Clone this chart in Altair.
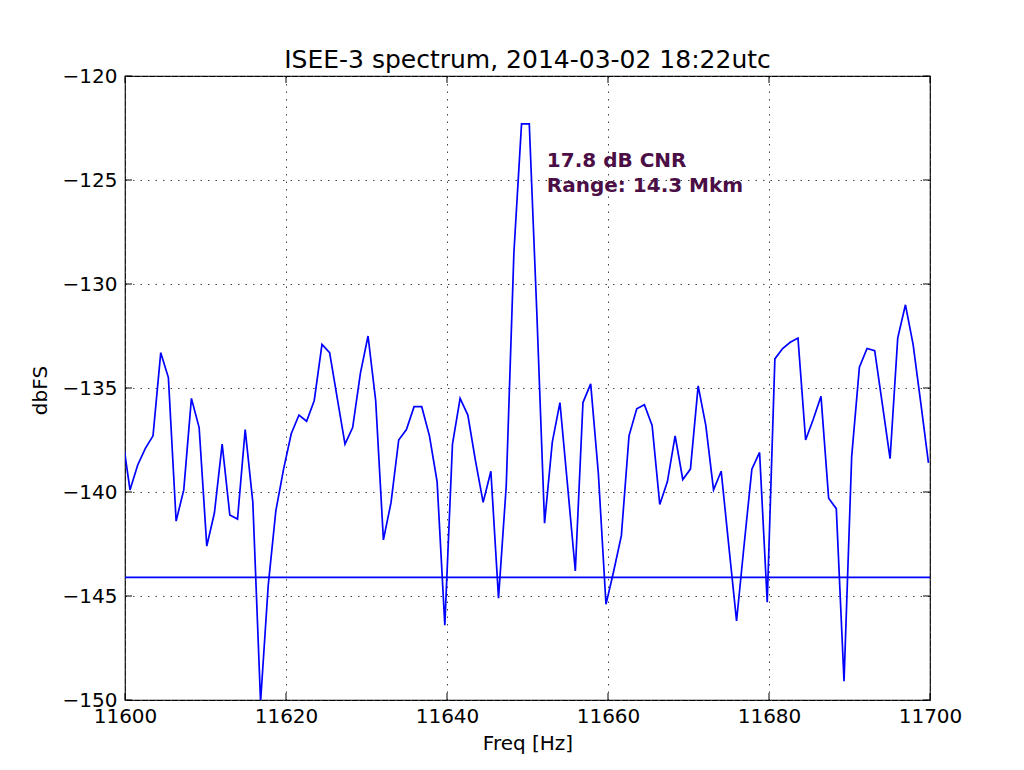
import altair as alt
import pandas as pd

# ---- data ----
freq_hz = [
    11599.67, 11600.62, 11601.58, 11602.53, 11603.48, 11604.44, 11605.39, 11606.35,
    11607.30, 11608.25, 11609.21, 11610.16, 11611.11, 11612.07, 11613.02, 11613.98,
    11614.93, 11615.88, 11616.84, 11617.79, 11618.74, 11619.70, 11620.65, 11621.61,
    11622.56, 11623.51, 11624.47, 11625.42, 11626.37, 11627.33, 11628.28, 11629.24,
    11630.19, 11631.14, 11632.10, 11633.05, 11634.00, 11634.96, 11635.91, 11636.86,
    11637.82, 11638.77, 11639.73, 11640.68, 11641.63, 11642.59, 11643.54, 11644.49,
    11645.45, 11646.40, 11647.36, 11648.31, 11649.26, 11650.22, 11651.17, 11652.12,
    11653.08, 11654.03, 11654.98, 11655.94, 11656.89, 11657.85, 11658.80, 11659.75,
    11660.71, 11661.66, 11662.61, 11663.57, 11664.52, 11665.48, 11666.43, 11667.38,
    11668.34, 11669.29, 11670.24, 11671.20, 11672.15, 11673.11, 11674.06, 11675.01,
    11675.97, 11676.92, 11677.87, 11678.83, 11679.78, 11680.73, 11681.69, 11682.64,
    11683.60, 11684.55, 11685.50, 11686.46, 11687.41, 11688.36, 11689.32, 11690.27,
    11691.23, 11692.18, 11693.13, 11694.09, 11695.04, 11695.99, 11696.95, 11697.90,
    11698.85, 11699.81,
]
dbfs = [
    -137.3, -139.9, -138.7, -137.9, -137.3, -133.3, -134.5, -141.4,
    -139.9, -135.5, -136.9, -142.6, -141.0, -137.7, -141.1, -141.3,
    -137.0, -140.5, -150.1, -144.5, -140.9, -138.9, -137.2, -136.3,
    -136.6, -135.6, -132.9, -133.3, -135.5, -137.7, -136.9, -134.3,
    -132.5, -135.6, -142.3, -140.5, -137.5, -137.0, -135.9, -135.9,
    -137.3, -139.5, -146.4, -137.7, -135.5, -136.3, -138.5, -140.5,
    -139.0, -145.1, -139.7, -128.5, -122.3, -122.3, -131.5, -141.5,
    -137.6, -135.7, -139.7, -143.8, -135.7, -134.8, -139.1, -145.4,
    -143.8, -142.1, -137.3, -136.0, -135.8, -136.8, -140.6, -139.5,
    -137.3, -139.4, -138.9, -134.9, -136.8, -139.9, -139.0, -142.6,
    -146.2, -142.5, -138.9, -138.1, -145.3, -133.6, -133.1, -132.8,
    -132.6, -137.5, -136.5, -135.4, -140.3, -140.8, -149.1, -138.3,
    -134.0, -133.1, -133.2, -135.8, -138.4, -132.6, -131.0, -132.9,
    -135.7, -138.6,
]
threshold_dbfs = [-144.1]
x_ticks = [11600, 11620, 11640, 11660, 11680, 11700]
y_ticks = [-150, -145, -140, -135, -130, -125, -120]
note_lines = ["17.8 dB CNR", "Range: 14.3 Mkm"]
note_freq = [11652.4, 11652.4]
note_dbfs = [-124.36, -125.56]
title_text = "ISEE-3 spectrum, 2014-03-02 18:22utc"

# ---- layout / style ----
W, H = 805, 624
BLUE = "#0000ff"
FONT = "DejaVu Sans"
TICK = 7

xs = alt.Scale(domain=[11600, 11700], nice=False, zero=False)
ys = alt.Scale(domain=[-150, -120], nice=False, zero=False)

x_axis = alt.Axis(
    values=x_ticks, format="d", title="Freq [Hz]", grid=True,
    gridDash=[1.5, 6], gridColor="#444", gridWidth=1,
    ticks=False, tickSize=0, domain=False,
    labelFont=FONT, labelFontSize=20, labelColor="black", labelPadding=6,
    labelFlush=False,
    titleFont=FONT, titleFontSize=20, titleFontWeight="normal", titleColor="black",
    titleX=W / 2, titleY=49, titleBaseline="alphabetic", titleAlign="center",
)
y_axis = alt.Axis(
    values=y_ticks, format="d", title="dbFS", grid=True,
    gridDash=[1.5, 6], gridColor="#444", gridWidth=1,
    ticks=False, tickSize=0, domain=False,
    labelFont=FONT, labelFontSize=20, labelColor="black", labelPadding=8,
    labelFlush=False,
    titleFont=FONT, titleFontSize=20, titleFontWeight="normal", titleColor="black",
    titleAngle=270, titleX=-85, titleY=314, titleBaseline="middle", titleAlign="center",
)


def X(field="f"):
    return alt.X(f"{field}:Q", scale=xs, axis=x_axis)


def Y(field="p"):
    return alt.Y(f"{field}:Q", scale=ys, axis=y_axis)


spec_df = pd.DataFrame({"f": freq_hz, "p": dbfs})
line = alt.Chart(spec_df).mark_line(color=BLUE, strokeWidth=1.7, clip=True).encode(
    x=X(), y=Y(), order="f:Q",
)

hline = alt.Chart(pd.DataFrame({"p": threshold_dbfs})).mark_rule(
    color=BLUE, strokeWidth=1.7
).encode(y=Y())

xt = pd.DataFrame({"f": x_ticks})
yt = pd.DataFrame({"p": y_ticks})
tick_top = alt.Chart(xt).mark_rule(color="black", strokeWidth=1).encode(
    x=X(), y=alt.value(0), y2=alt.value(TICK))
tick_bot = alt.Chart(xt).mark_rule(color="black", strokeWidth=1).encode(
    x=X(), y=alt.value(H - TICK), y2=alt.value(H))
tick_left = alt.Chart(yt).mark_rule(color="black", strokeWidth=1).encode(
    y=Y(), x=alt.value(0), x2=alt.value(TICK))
tick_right = alt.Chart(yt).mark_rule(color="black", strokeWidth=1).encode(
    y=Y(), x=alt.value(W - TICK), x2=alt.value(W))

note_df = pd.DataFrame({"t": note_lines, "f": note_freq, "p": note_dbfs})
note = alt.Chart(note_df).mark_text(
    align="left", baseline="alphabetic", font=FONT, fontWeight="bold",
    fontSize=20, color="#4b0f46"
).encode(x=X(), y=Y(), text="t:N")

chart = alt.layer(
    line, hline, tick_top, tick_bot, tick_left, tick_right, note
).properties(
    width=W, height=H,
    title=alt.Title(title_text, font=FONT, fontSize=25, fontWeight="normal",
                    color="black", anchor="middle", baseline="alphabetic", offset=-27),
    padding={"left": 117, "top": 68, "right": 86, "bottom": 62},
    autosize=alt.AutoSizeParams(type="none"),
    background="white",
).configure_view(stroke="black", strokeWidth=1.2)

chart.save("out.html", embed_options={"renderer": "svg", "actions": False})
